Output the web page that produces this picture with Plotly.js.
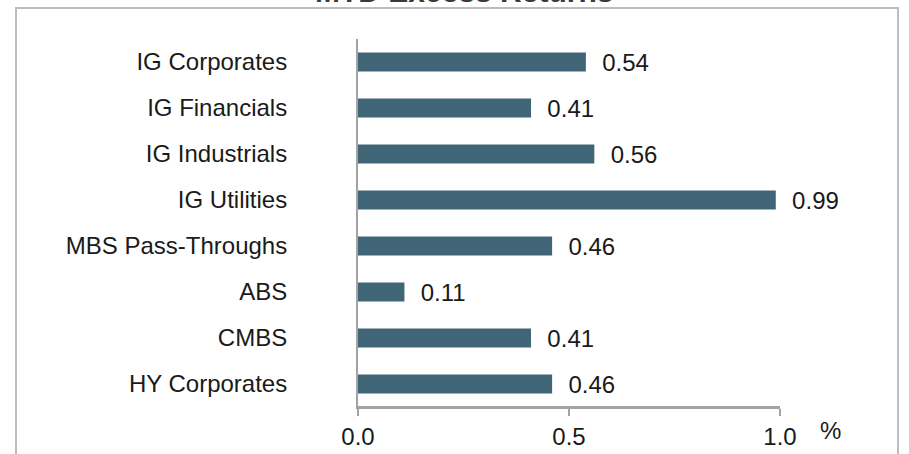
<!DOCTYPE html>
<html>
<head>
<meta charset="utf-8">
<script src="https://cdn.plot.ly/plotly-3.0.1.min.js"></script>
<style>
html,body{margin:0;padding:0;background:#fff;}
#chart{width:909px;height:454px;}
</style>
</head>
<body>
<div id="chart"></div>
<script>
const categories = ["IG Corporates","IG Financials","IG Industrials","IG Utilities","MBS Pass-Throughs","ABS","CMBS","HY Corporates"];
const excessReturns = [0.54, 0.41, 0.56, 0.99, 0.46, 0.11, 0.41, 0.46];
const xTickValues = [0, 0.5, 1.0];
const xTickLabels = ["0.0", "0.5", "1.0"];
const chartTitle = "MTD Excess Returns";
const unitLabel = "%";

const FONT = "Liberation Sans, Arial, sans-serif";
const TOP = 39, BOTTOM = 407, LEFT = 358, RIGHT = 780;
const PH = BOTTOM - TOP, PW = RIGHT - LEFT;
const AXIS_COLOR = "#a3a3a3";

const trace = {
  type: "bar",
  orientation: "h",
  x: excessReturns,
  y: categories,
  marker: {color: "#406577"},
  width: 0.41,
  text: excessReturns.map(v => v.toFixed(2)),
  texttemplate: "  %{text}",
  textposition: "outside",
  constraintext: "none",
  cliponaxis: false,
  textfont: {family: FONT, size: 24, color: "#1a1a1a"},
  hoverinfo: "none"
};

const layout = {
  width: 909,
  height: 454,
  margin: {l: LEFT, r: 909 - RIGHT, t: TOP, b: 454 - BOTTOM},
  paper_bgcolor: "#ffffff",
  plot_bgcolor: "#ffffff",
  showlegend: false,
  xaxis: {
    range: [0, 1.0],
    tickvals: xTickValues,
    ticktext: xTickLabels,
    ticks: "outside",
    ticklen: 7,
    tickcolor: AXIS_COLOR,
    tickwidth: 2,
    showline: true,
    linecolor: AXIS_COLOR,
    linewidth: 2,
    showgrid: false,
    zeroline: false,
    ticklabelstandoff: 0,
    tickfont: {family: FONT, size: 24, color: "#1a1a1a"},
    fixedrange: true
  },
  yaxis: {
    type: "category",
    autorange: "reversed",
    showline: true,
    linecolor: AXIS_COLOR,
    linewidth: 2,
    showgrid: false,
    zeroline: false,
    ticks: "",
    ticklabelstandoff: 64,
    tickfont: {family: FONT, size: 24, color: "#1a1a1a"},
    fixedrange: true
  },
  annotations: [{
    text: "<b>" + chartTitle + "</b>",
    xref: "paper", yref: "paper",
    x: (464 - LEFT) / PW, y: (BOTTOM + 8) / PH,
    xanchor: "center", yanchor: "middle",
    showarrow: false,
    font: {family: FONT, size: 30, color: "#3a3a3a"}
  }, {
    text: unitLabel,
    xref: "paper", yref: "paper",
    x: (830 - LEFT) / PW, y: (BOTTOM - 430) / PH,
    xanchor: "center", yanchor: "middle",
    showarrow: false,
    font: {family: FONT, size: 24, color: "#1a1a1a"}
  }],
  shapes: [{
    type: "rect",
    xref: "paper", yref: "paper",
    x0: (16 - LEFT) / PW, x1: (898 - LEFT) / PW,
    y0: -0.2, y1: (BOTTOM - 8) / PH,
    line: {color: "#bdbdbd", width: 2},
    fillcolor: "rgba(0,0,0,0)",
    layer: "below"
  }, {
    type: "line",
    xref: "paper", yref: "paper",
    x0: 0, x1: 1, y0: 0, y1: 0,
    line: {color: AXIS_COLOR, width: 2},
    layer: "above"
  }]
};

Plotly.newPlot("chart", [trace], layout, {displayModeBar: false, staticPlot: true});
</script>
</body>
</html>
